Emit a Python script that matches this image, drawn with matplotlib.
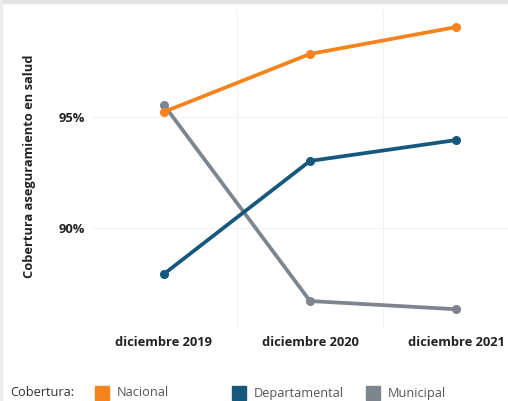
import matplotlib.pyplot as plt
from matplotlib.patches import Rectangle

# coverage (%) by year
periodos = ['diciembre 2019', 'diciembre 2020', 'diciembre 2021']
nacional = [95.23, 97.84, 99.05]
departamental = [87.93, 93.02, 93.96]
municipal = [95.54, 86.71, 86.34]

series = ['Nacional', 'Departamental', 'Municipal']
colores = ['#F5841F', '#16587C', '#7E858F']

plt.rcParams['font.family'] = ['Open Sans', 'DejaVu Sans']

fig = plt.figure(figsize=(5.08, 4.01), dpi=100)
ax = fig.add_axes([92 / 508, 74 / 401, 1 - 92 / 508, 317 / 401])

x = list(range(len(periodos)))
# municipal first so the national line sits on top of it in 2019
for vals, col in [(municipal, colores[2]), (departamental, colores[1]),
                  (nacional, colores[0])]:
    ax.plot(x, vals, color=col, lw=2.7, marker='o', ms=5.5,
            solid_capstyle='round', zorder=3)

ax.set_xlim(-0.493, 2.356)
ax.set_ylim(85.54, 99.82)

ax.set_yticks([90, 95])
ax.set_yticklabels(['90%', '95%'])
ax.set_xticks(x)
ax.set_xticklabels(periodos)
for lab in ax.get_xticklabels() + ax.get_yticklabels():
    lab.set_fontweight('bold')
    lab.set_fontsize(9.3)
    lab.set_color('#222222')
ax.tick_params(length=0)
ax.tick_params(axis='y', pad=5)
ax.tick_params(axis='x', pad=6.5)

for v in [90, 95]:
    ax.axhline(v, color='#F2F2F2', lw=0.8, zorder=1)
for v in [-0.5, 0.5, 1.5]:
    ax.axvline(v, color='#F2F2F2', lw=0.8, zorder=1)
for s in ax.spines.values():
    s.set_visible(False)

fig.text(30 / 508, 1 - 166 / 401, 'Cobertura aseguramiento en salud',
         rotation=90, ha='center', va='center', fontsize=9.3,
         fontweight='bold', color='#222222')

# legend row
ly = 1 - 393 / 401
fig.text(10 / 508, ly, 'Cobertura:', fontsize=9.2, va='center', color='#333333')
for xs, nombre, col in zip([95, 232, 366], series, colores):
    fig.patches.append(Rectangle((xs / 508, 1 - 400 / 401), 14 / 508, 14 / 401,
                                 transform=fig.transFigure, color=col))
    fig.text((xs + 22) / 508, ly, nombre, fontsize=9.2, va='center',
             color='#555555')

# frame strips along the top and left edges
fig.patches.append(Rectangle((0, 1 - 3 / 401), 1, 3 / 401,
                             transform=fig.transFigure, color='#E4E4E4'))
fig.patches.append(Rectangle((0, 0), 2 / 508, 1,
                             transform=fig.transFigure, color='#EDEDED'))

fig.savefig('out.png', dpi=100)
